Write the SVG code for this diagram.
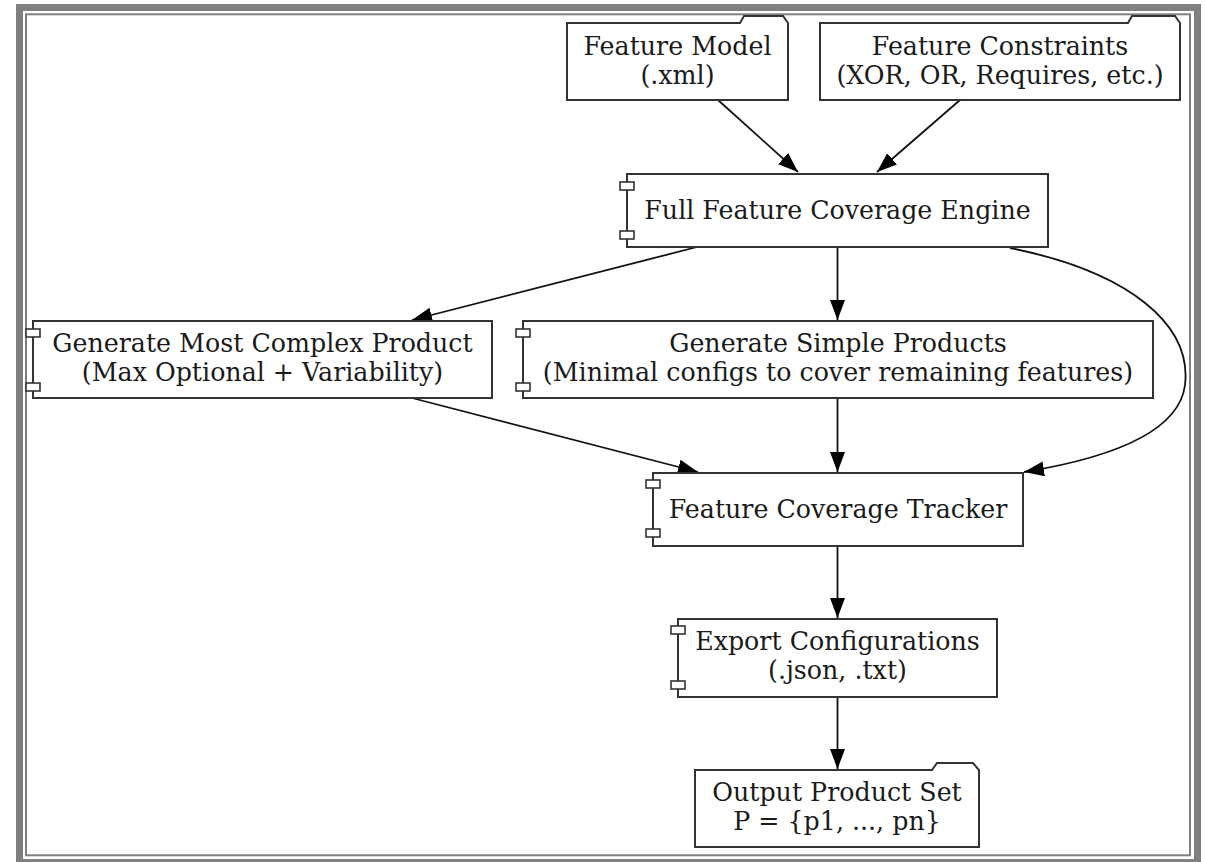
<svg xmlns="http://www.w3.org/2000/svg" width="1205" height="862" viewBox="0 0 1205 862">
<style>
.frame-outer{fill:none;stroke:#808080;stroke-width:7}
.frame-inner{fill:none;stroke:#808080;stroke-width:2}
.box{fill:#ffffff;stroke:#333333;stroke-width:2}
.port{fill:#ffffff;stroke:#333333;stroke-width:1.6}
.lbl{font-family:"DejaVu Serif","Liberation Serif",serif;font-size:25.3px;fill:#1a1a1a;text-anchor:middle}
.edge{fill:none;stroke:#111111;stroke-width:1.8}
</style>
<defs>
<marker id="arr" markerUnits="userSpaceOnUse" markerWidth="21" markerHeight="15" refX="20" refY="7.5" orient="auto" viewBox="0 0 21 15">
<path d="M0,0 L20,7.5 L0,15 Z" fill="#000000"/>
</marker>
</defs>
<rect width="1205" height="862" fill="#ffffff"/>
<rect class="frame-outer" x="19.5" y="7.5" width="1178" height="855"/>
<rect class="frame-inner" x="26" y="14.3" width="1164" height="841"/>

<g id="connectors">
<path class="edge" d="M718,100 L798,172" marker-end="url(#arr)"/>
<path class="edge" d="M960,100 L877,172" marker-end="url(#arr)"/>
<path class="edge" d="M697,247 L412,320" marker-end="url(#arr)"/>
<path class="edge" d="M837.5,247 L837.5,320" marker-end="url(#arr)"/>
<path class="edge" d="M1010,248 C1130,272 1192,325 1185,385 C1179,432 1110,458 1024,472" marker-end="url(#arr)"/>
<path class="edge" d="M412,398 L698,472" marker-end="url(#arr)"/>
<path class="edge" d="M837.5,398 L837.5,472" marker-end="url(#arr)"/>
<path class="edge" d="M837.5,546 L837.5,618" marker-end="url(#arr)"/>
<path class="edge" d="M837.5,697 L837.5,769" marker-end="url(#arr)"/>
</g>

<g id="feature-model">
<path class="box" d="M567,23 L740,23 L744,16 L783,16 L788,23 L788,100 L567,100 Z"/>
<text class="lbl" x="677.5" y="55">Feature Model</text>
<text class="lbl" x="677.5" y="84">(.xml)</text>
</g>

<g id="feature-constraints">
<path class="box" d="M820,23 L1128,23 L1132,16 L1175,16 L1180,23 L1180,100 L820,100 Z"/>
<text class="lbl" x="1000" y="55">Feature Constraints</text>
<text class="lbl" x="1000" y="84">(XOR, OR, Requires, etc.)</text>
</g>

<g id="engine">
<rect class="box" x="627" y="174" width="421" height="73"/>
<rect class="port" x="620" y="182" width="14" height="8"/>
<rect class="port" x="620" y="231" width="14" height="8"/>
<text class="lbl" x="837.5" y="219">Full Feature Coverage Engine</text>
</g>

<g id="complex-product">
<rect class="box" x="33" y="321" width="459" height="77"/>
<rect class="port" x="26" y="329" width="14" height="8"/>
<rect class="port" x="26" y="383" width="14" height="8"/>
<text class="lbl" x="262.5" y="352">Generate Most Complex Product</text>
<text class="lbl" x="262.5" y="381">(Max Optional + Variability)</text>
</g>

<g id="simple-products">
<rect class="box" x="523" y="321" width="630" height="77"/>
<rect class="port" x="516" y="329" width="14" height="8"/>
<rect class="port" x="516" y="383" width="14" height="8"/>
<text class="lbl" x="838" y="352">Generate Simple Products</text>
<text class="lbl" x="838" y="381">(Minimal configs to cover remaining features)</text>
</g>

<g id="tracker">
<rect class="box" x="653" y="473" width="370" height="73"/>
<rect class="port" x="646" y="480" width="14" height="8"/>
<rect class="port" x="646" y="529" width="14" height="8"/>
<text class="lbl" x="838" y="518">Feature Coverage Tracker</text>
</g>

<g id="export">
<rect class="box" x="678" y="619" width="319" height="78"/>
<rect class="port" x="671" y="626" width="14" height="8"/>
<rect class="port" x="671" y="681" width="14" height="8"/>
<text class="lbl" x="837.5" y="650">Export Configurations</text>
<text class="lbl" x="837.5" y="679">(.json, .txt)</text>
</g>

<g id="output-set">
<path class="box" d="M695,770 L932,770 L937,763 L973,763 L979,770 L979,847 L695,847 Z"/>
<text class="lbl" x="837" y="801">Output Product Set</text>
<text class="lbl" x="837" y="830">P = {p1, ..., pn}</text>
</g>
</svg>
